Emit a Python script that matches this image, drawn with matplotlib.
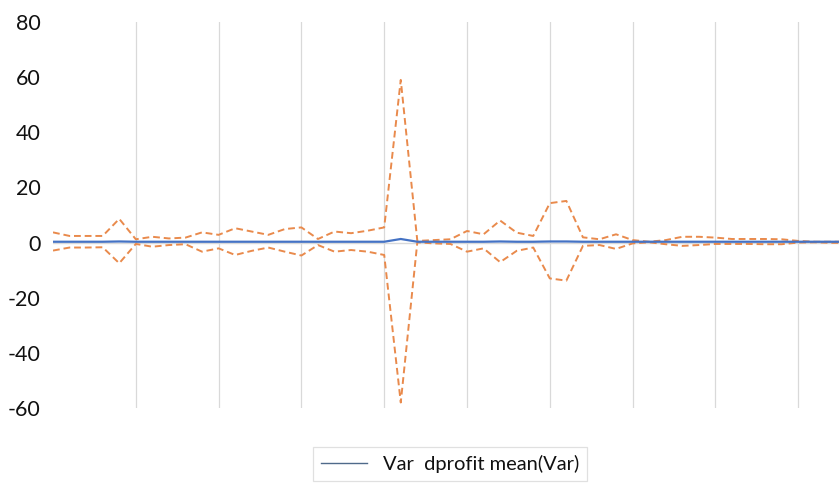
import matplotlib
matplotlib.use("Agg")
import matplotlib.pyplot as plt
import numpy as np

# ---- data ----
upper = [3.7, 2.4, 2.4, 2.4, 8.6, 1.2, 2.1, 1.5, 1.8, 3.7,
         2.8, 5.2, 4.0, 2.8, 4.9, 5.5, 1.3, 4.0, 3.4, 4.3,
         5.5, 59.0, 0.6, 0.9, 1.2, 4.2, 3.0, 8.0, 3.6, 2.4,
         14.3, 15.1, 1.9, 1.2, 3.0, 0.9, 0.3, 0.9, 2.1, 2.1,
         1.8, 1.3, 1.3, 1.3, 1.2, 0.6, 0.3, 0.3, 0.3]
lower = [-2.9, -1.8, -1.8, -1.7, -7.5, -0.5, -1.5, -0.9, -0.6, -3.3,
         -2.1, -4.5, -3.0, -1.8, -3.3, -4.7, -0.9, -3.3, -2.7, -3.3,
         -4.5, -58.0, 0.1, -0.3, -0.5, -3.3, -2.1, -7.1, -3.0, -1.8,
         -13.0, -13.8, -1.2, -0.9, -2.3, -0.3, 0.1, -0.6, -1.2, -0.9,
         -0.5, -0.5, -0.5, -0.6, -0.6, 0.0, 0.1, -0.1, -0.1]
mean = [0.3, 0.3, 0.3, 0.3, 0.4, 0.3, 0.3, 0.3, 0.3, 0.3,
        0.3, 0.3, 0.3, 0.3, 0.3, 0.3, 0.3, 0.3, 0.3, 0.3,
        0.3, 1.3, 0.3, 0.3, 0.3, 0.3, 0.3, 0.4, 0.3, 0.3,
        0.4, 0.4, 0.3, 0.3, 0.3, 0.3, 0.3, 0.3, 0.3, 0.3,
        0.3, 0.3, 0.3, 0.3, 0.3, 0.3, 0.3, 0.3, 0.3]
yticks = [-60, -40, -20, 0, 20, 40, 60, 80]
legend_label = "Var  dprofit mean(Var)"

plt.rcParams['font.family'] = ['Lato', 'DejaVu Sans']

W, H = 839, 483
fig = plt.figure(figsize=(W / 100, H / 100), dpi=100)
left, right, top, bottom = 53, 839, 22, 408
ax = fig.add_axes([left / W, 1 - bottom / H, (right - left) / W, (bottom - top) / H])

x = np.arange(len(mean))
ax.plot(x, upper, color="#E98A4C", lw=1.4, ls=(0, (3.5, 2)), zorder=3)
ax.plot(x, lower, color="#E98A4C", lw=1.4, ls=(0, (3.5, 2)), zorder=3)
line_mean, = ax.plot(x, mean, color="#4472C4", lw=1.6, zorder=4, label=legend_label)

ax.axhline(0, color="#D9D9D9", lw=1.0, zorder=1)
for gx in range(5, len(mean), 5):
    ax.axvline(gx, color="#D9D9D9", lw=0.9, zorder=0)

ax.set_ylim(-60, 80)
ax.set_xlim(0, (right - left) / 16.56)
ax.set_yticks(yticks)
ax.set_yticklabels([str(v) for v in yticks])
ax.set_xticks([])
ax.tick_params(axis="y", length=0, pad=9, labelsize=15.5, labelcolor="#111111")
for s in ax.spines.values():
    s.set_visible(False)

leg = fig.legend(handles=[line_mean], loc="center", bbox_to_anchor=(450 / W, 1 - 464 / H),
                 frameon=True, fancybox=False, fontsize=14.5, handlelength=2.3,
                 borderpad=0.4, handletextpad=0.8)
leg.get_frame().set_edgecolor("#D9D9D9")
leg.get_frame().set_linewidth(0.9)
for t in leg.get_texts():
    t.set_color("#111111")
leg.get_lines()[0].set_linewidth(1.0)
leg.get_lines()[0].set_color("#4F6A8A")

fig.savefig("out.png", dpi=100)
